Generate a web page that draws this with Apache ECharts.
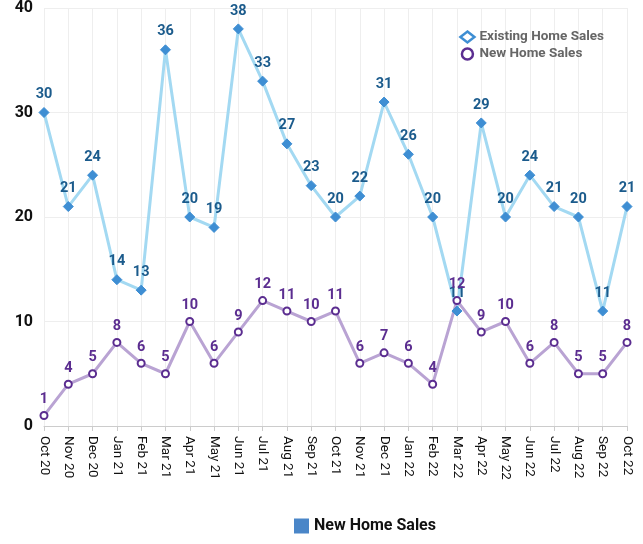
<!DOCTYPE html>
<html><head><meta charset="utf-8">
<script src="https://cdn.jsdelivr.net/npm/echarts@6/dist/echarts.min.js"></script>
<style>html,body{margin:0;padding:0;background:#fff}#c{width:643px;height:544px}</style>
</head><body><div id="c"></div>
<script>
const categories = ['Oct 20','Nov 20','Dec 20','Jan 21','Feb 21','Mar 21','Apr 21','May 21','Jun 21','Jul 21','Aug 21','Sep 21','Oct 21','Nov 21','Dec 21','Jan 22','Feb 22','Mar 22','Apr 22','May 22','Jun 22','Jul 22','Aug 22','Sep 22','Oct 22'];
const existingHomeSales = [30,21,24,14,13,36,20,19,38,33,27,23,20,22,31,26,20,11,29,20,24,21,20,11,21];
const newHomeSales = [1,4,5,8,6,5,10,6,9,12,11,10,11,6,7,6,4,12,9,10,6,8,5,5,8];
const yTicks = [0,10,20,30,40];

const chart = echarts.init(document.getElementById('c'), null, {renderer:'canvas'});
chart.setOption({
  animation:false,
  backgroundColor:'#fff',
  grid:{left:44,right:16,top:8,bottom:118,containLabel:false},
  legend:[{
    top:25,right:34,orient:'vertical',itemGap:3,itemWidth:14,itemHeight:11,
    textStyle:{color:'#666',fontWeight:'bold',fontSize:13.5,fontFamily:'Roboto'},
    data:[{name:'Existing Home Sales',icon:'diamond',itemStyle:{color:'#fff',borderColor:'#3e8ed3',borderWidth:2.5}},
          {name:'New Home Sales',icon:'circle',itemStyle:{color:'#fff',borderColor:'#5b2d90',borderWidth:2.5}}]
  },{
    bottom:5,left:289,itemWidth:15,itemHeight:15,selectedMode:false,
    textStyle:{color:'#111',fontWeight:'bold',fontSize:16,fontFamily:'Roboto'},
    data:[{name:'New Home Sales',icon:'rect',itemStyle:{color:'#4a86c8',borderWidth:0}}]
  }],
  xAxis:{
    type:'category',data:categories,boundaryGap:false,
    axisLine:{lineStyle:{color:'#ccc'}},
    axisTick:{show:true,alignWithLabel:true,lineStyle:{color:'#ccc'}},
    axisLabel:{rotate:-90,interval:0,color:'#111',fontSize:13.5,fontFamily:'Roboto',margin:10},
    splitLine:{show:true,lineStyle:{color:'#eee'}}
  },
  yAxis:{
    type:'value',min:yTicks[0],max:yTicks[yTicks.length-1],interval:10,
    axisLine:{show:false},axisTick:{show:false},
    axisLabel:{color:'#111',fontSize:16,fontWeight:'bold',fontFamily:'Roboto',margin:11},
    splitLine:{lineStyle:{color:'#eee'}}
  },
  series:[{
    name:'Existing Home Sales',type:'line',data:existingHomeSales,
    symbol:'diamond',symbolSize:10,
    lineStyle:{color:'#a3d9f2',width:3},
    itemStyle:{color:'#3e8ed3',borderColor:'#3e8ed3'},
    label:{show:true,position:'top',distance:5,color:'#1b5b8c',fontWeight:'bold',fontSize:14.5,fontFamily:'Roboto'}
  },{
    name:'New Home Sales',type:'line',data:newHomeSales,
    symbol:'circle',symbolSize:7,
    lineStyle:{color:'#b9a3d3',width:3},
    itemStyle:{color:'#fff',borderColor:'#5b2d90',borderWidth:2},
    label:{show:true,position:'top',distance:4,color:'#5b2d90',fontWeight:'bold',fontSize:14.5,fontFamily:'Roboto'}
  }]
});
</script></body></html>
